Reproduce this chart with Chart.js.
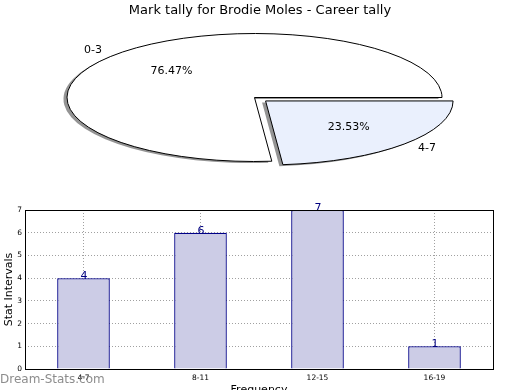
<!DOCTYPE html>
<html><head><meta charset="utf-8">
<script src="https://cdn.jsdelivr.net/npm/chart.js@4.4.1/dist/chart.umd.min.js"></script>
<style>
html,body{margin:0;padding:0;overflow:hidden;background:#fff;width:520px;height:390px;}
canvas{position:absolute;left:0;top:0;}
</style></head><body>
<canvas id="pie" width="520" height="390"></canvas>
<canvas id="bar" width="520" height="400"></canvas>
<script>
// ---- data ----
const pieTitle = 'Mark tally for Brodie Moles - Career tally';
const pieLabels = ['0-3', '4-7'];
const pieValues = [13, 4];
const barCategories = ['4-7', '8-11', '12-15', '16-19'];
const barValues = [4, 6, 7, 1];
const yAxisTitle = 'Stat Intervals';
const xAxisTitle = 'Frequency';
const watermark = 'Dream-Stats.com';

// ---- pie (drawn as a flattened ellipse) ----
const FONT = '"DejaVu Sans", "Liberation Sans", sans-serif';
const E = {cx: 254.5, cy: 97.5, rx: 187.5, ry: 64};
const PIE_R = 180;
const EXPLODE = 0.08;
const explodedLabel = '4-7';
const fillByLabel = {'0-3': '#ffffff', '4-7': '#eaf0fd'};
// clockwise from east: 4-7 first, then 0-3 (mirrors a counter-clockwise pie starting at east)
const pieOrderLabels = pieLabels.slice().reverse();
const pieOrderValues = pieValues.slice().reverse();
const pieTotal = pieValues.reduce((a, b) => a + b, 0);

function ellipseTransform(ctx, a) {
  const s = a.outerRadius;
  ctx.translate(E.cx, E.cy);
  ctx.scale(E.rx / s, E.ry / s);
  ctx.translate(-a.x, -a.y);
}

const ellipsePlugin = {
  id: 'ellipse',
  beforeDatasetsDraw(chart) {
    const ctx = chart.ctx;
    const a0 = chart.getDatasetMeta(0).data[0];
    ctx.save();
    ellipseTransform(ctx, a0);
    ctx.shadowColor = 'rgba(60,60,60,0.55)';
    ctx.shadowOffsetX = -3.5;
    ctx.shadowOffsetY = 1.5;
    ctx.shadowBlur = 0;
  },
  afterDatasetsDraw(chart) {
    const ctx = chart.ctx;
    ctx.restore();
    const arcs = chart.getDatasetMeta(0).data;
    const a0 = arcs[0];
    const sx = E.rx / a0.outerRadius, sy = E.ry / a0.outerRadius;
    const map = (px, py) => [E.cx + (px - a0.x) * sx, E.cy + (py - a0.y) * sy];
    arcs.forEach((a, i) => {
      const half = (a.startAngle + a.endAngle) / 2;
      const off = (a.options.offset || 0) / 4;
      const ox = a.x + Math.cos(half) * off, oy = a.y + Math.sin(half) * off;
      ctx.save();
      ellipseTransform(ctx, a0);
      ctx.beginPath();
      ctx.moveTo(ox, oy);
      ctx.arc(ox, oy, a.outerRadius, a.startAngle, a.endAngle);
      ctx.closePath();
      ctx.restore();
      ctx.save();
      ctx.lineWidth = 1;
      ctx.strokeStyle = '#000';
      ctx.lineJoin = 'miter';
      ctx.stroke();
      ctx.restore();
      // labels
      const lbl = chart.data.labels[i];
      const val = chart.data.datasets[0].data[i];
      const c = Math.cos(half), s = Math.sin(half);
      const [lx, ly] = map(ox + c * 1.1 * a.outerRadius, oy + s * 1.1 * a.outerRadius);
      const [px, py] = map(ox + c * 0.6 * a.outerRadius, oy + s * 0.6 * a.outerRadius);
      ctx.save();
      ctx.fillStyle = '#000';
      ctx.font = '11px ' + FONT;
      ctx.textBaseline = 'middle';
      ctx.textAlign = c > 0 ? 'left' : 'right';
      ctx.fillText(lbl, lx, ly);
      ctx.textAlign = 'center';
      ctx.fillText((val / pieTotal * 100).toFixed(2) + '%', px, py);
      ctx.restore();
    });
  }
};

new Chart(document.getElementById('pie'), {
  type: 'pie',
  data: {
    labels: pieOrderLabels,
    datasets: [{
      data: pieOrderValues,
      backgroundColor: pieOrderLabels.map(l => fillByLabel[l]),
      borderWidth: 0,
      offset: pieOrderLabels.map(l => l === explodedLabel ? 4 * EXPLODE * PIE_R : 0),
      hoverOffset: 0
    }]
  },
  options: {
    responsive: false, animation: false, devicePixelRatio: 1, events: [],
    rotation: 90,
    radius: PIE_R,
    plugins: {
      legend: {display: false}, tooltip: {enabled: false},
      title: {display: true, text: pieTitle, color: '#000', font: {family: FONT, size: 13, weight: 'normal'}, padding: {top: 3, bottom: 0}}
    }
  },
  plugins: [ellipsePlugin]
});

// ---- bar chart ----
const barExtras = {
  id: 'barExtras',
  afterDatasetsDraw(chart) {
    const ctx = chart.ctx;
    const meta = chart.getDatasetMeta(0);
    ctx.save();
    ctx.fillStyle = '#000080';
    ctx.font = '11px ' + FONT;
    ctx.textAlign = 'center';
    ctx.textBaseline = 'alphabetic';
    meta.data.forEach((b, i) => ctx.fillText(String(barValues[i]), b.x + 0.5, b.y + 1));
    ctx.restore();
  },
  afterDraw(chart) {
    const ctx = chart.ctx, ca = chart.chartArea;
    ctx.save();
    ctx.strokeStyle = '#000';
    ctx.lineWidth = 1;
    ctx.strokeRect(Math.round(ca.left) + 0.5, Math.round(ca.top) + 0.5, Math.round(ca.right - ca.left), Math.round(ca.bottom - ca.top));
    ctx.fillStyle = 'rgba(120,120,120,0.85)';
    ctx.font = '12px ' + FONT;
    ctx.textAlign = 'left';
    ctx.textBaseline = 'middle';
    ctx.fillText(watermark, 0, 380);
    ctx.restore();
  }
};

new Chart(document.getElementById('bar'), {
  type: 'bar',
  data: {
    labels: barCategories,
    datasets: [{
      data: barValues,
      backgroundColor: '#cccce6',
      borderColor: '#000088',
      borderWidth: 1.3,
      barPercentage: 0.45,
      categoryPercentage: 1
    }]
  },
  options: {
    responsive: false, animation: false, devicePixelRatio: 1, events: [],
    layout: {padding: {left: 0, top: 210, right: 27, bottom: 0}},
    plugins: {legend: {display: false}, tooltip: {enabled: false}},
    scales: {
      x: {
        z: 1,
        grid: {display: true, offset: false, color: '#a0a0a0', lineWidth: 1, drawTicks: false},
        border: {display: false, dash: [1, 2]},
        ticks: {color: '#000', font: {family: FONT, size: 7.5}, padding: 5, maxRotation: 0},
        title: {display: true, text: xAxisTitle, color: '#000', font: {family: FONT, size: 11}, padding: {top: 0, bottom: 3.4}},
        afterFit(s) { s.height = 31; }
      },
      y: {
        z: 1,
        min: 0, max: 7,
        grid: {display: true, color: '#a0a0a0', lineWidth: 1, drawTicks: false},
        border: {display: false, dash: [1, 2]},
        ticks: {stepSize: 1, color: '#000', font: {family: FONT, size: 7.5}, padding: 3},
        title: {display: true, text: yAxisTitle, color: '#000', font: {family: FONT, size: 11}, padding: {top: 2.5, bottom: 0}},
        afterFit(s) { s.width = 25; }
      }
    }
  },
  plugins: [barExtras]
});
</script>
</body></html>
